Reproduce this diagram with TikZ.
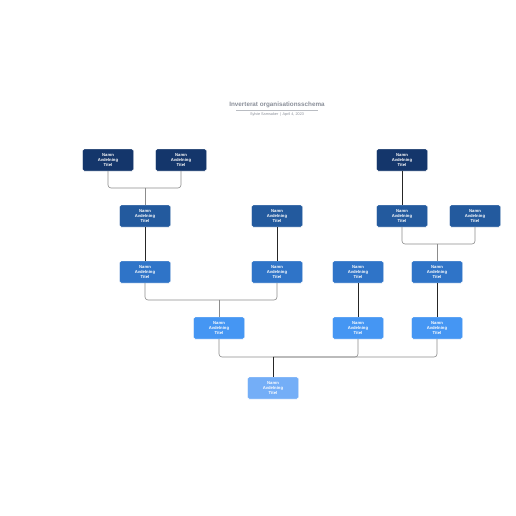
\documentclass[tikz,border=0pt]{standalone}
\usepackage{fontspec}
\setmainfont{Liberation Sans}
\definecolor{c1}{HTML}{14366B}
\definecolor{c2}{HTML}{235A9E}
\definecolor{c3}{HTML}{2F74C8}
\definecolor{c4}{HTML}{4596F3}
\definecolor{c5}{HTML}{74AEF7}
\definecolor{gline}{HTML}{8C8C8C}
\definecolor{ttl}{HTML}{8A8F99}
\tikzset{
  orgbox/.style={draw=white, line width=0.4pt, rounded corners=1.5pt, minimum width=51pt, minimum height=22pt, inner sep=0pt, align=center, text=white, font=\fontsize{4.2}{5}\selectfont\bfseries},
  conn/.style={draw=gline, line width=0.6pt, rounded corners=3pt},
  solid conn/.style={draw=black!85, line width=0.7pt},
}
\begin{document}
\begin{tikzpicture}[x=1pt,y=-1pt]
\useasboundingbox[fill=white] (0,0) rectangle (516,516);
\node[font=\fontsize{6.3}{7}\selectfont\bfseries, text=ttl] (title) at (277,105) {Inverterat organisationsschema};
\draw[ttl!60, line width=0.4pt] (236,110) -- (318,110);
\node[font=\fontsize{3.8}{4.5}\selectfont, text=ttl] (sub) at (277,114.5) {Sylvie Samsaker \,|\, April 4, 2023};
% row 1
\node[orgbox, fill=c1] (a1) at (108,160) {Namn\\Avdelning\\Titel};
\node[orgbox, fill=c1] (a2) at (181,160) {Namn\\Avdelning\\Titel};
\node[orgbox, fill=c1] (a3) at (402,160) {Namn\\Avdelning\\Titel};
% row 2
\node[orgbox, fill=c2] (b1) at (145,216) {Namn\\Avdelning\\Titel};
\node[orgbox, fill=c2] (b2) at (277,216) {Namn\\Avdelning\\Titel};
\node[orgbox, fill=c2] (b3) at (402,216) {Namn\\Avdelning\\Titel};
\node[orgbox, fill=c2] (b4) at (475,216) {Namn\\Avdelning\\Titel};
% row 3
\node[orgbox, fill=c3] (r1) at (145,272) {Namn\\Avdelning\\Titel};
\node[orgbox, fill=c3] (r2) at (277,272) {Namn\\Avdelning\\Titel};
\node[orgbox, fill=c3] (r3) at (358,272) {Namn\\Avdelning\\Titel};
\node[orgbox, fill=c3] (r4) at (437,272) {Namn\\Avdelning\\Titel};
% row 4
\node[orgbox, fill=c4] (d1) at (219,328) {Namn\\Avdelning\\Titel};
\node[orgbox, fill=c4] (d2) at (358,328) {Namn\\Avdelning\\Titel};
\node[orgbox, fill=c4] (d3) at (437,328) {Namn\\Avdelning\\Titel};
% row 5
\node[orgbox, fill=c5] (e1) at (273,388) {Namn\\Avdelning\\Titel};
% junctions
\coordinate (j1) at (145,188);
\coordinate (j2) at (437,244);
\coordinate (j3) at (219,300);
\coordinate (j4) at (273,357);
% connectors
\draw[conn] (a1.south) |- (j1);
\draw[conn] (a2.south) |- (j1);
\draw[conn] (j1) -- (b1.north);
\draw[solid conn] (b1.south) -- (r1.north);
\draw[solid conn] (b2.south) -- (r2.north);
\draw[solid conn] (a3.south) -- (b3.north);
\draw[conn] (b3.south) |- (j2);
\draw[conn] (b4.south) |- (j2);
\draw[conn] (j2) -- (r4.north);
\draw[conn] (r1.south) |- (j3);
\draw[conn] (r2.south) |- (j3);
\draw[conn] (j3) -- (d1.north);
\draw[solid conn] (r3.south) -- (d2.north);
\draw[solid conn] (r4.south) -- (d3.north);
\draw[conn] (d1.south) |- (j4);
\draw[conn] (d2.south) |- (j4);
\draw[conn] (d3.south) |- (j4);
\draw[solid conn] (j4) -- (e1.north);
\end{tikzpicture}
\end{document}
